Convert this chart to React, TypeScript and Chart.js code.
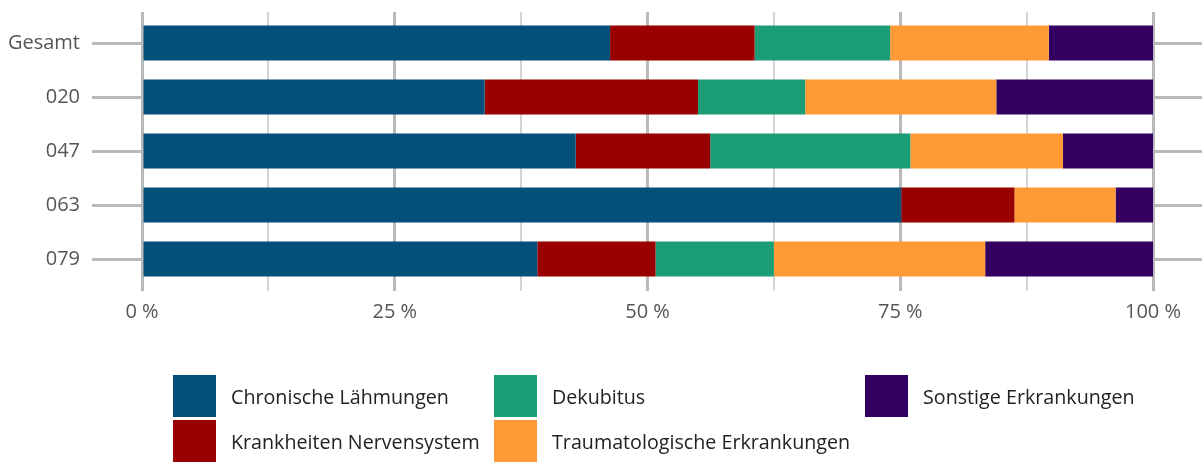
import React, { useEffect, useRef } from "react";
import { Chart, registerables } from "chart.js";

Chart.register(...registerables);

const categories = ["Gesamt", "020", "047", "063", "079"];
const chronischeLaehmungen = [46.3, 33.9, 42.9, 75.1, 39.1];
const krankheitenNervensystem = [14.3, 21.1, 13.3, 11.2, 11.7];
const dekubitus = [13.4, 10.6, 19.8, 0, 11.7];
const traumatologische = [15.7, 18.9, 15.1, 10.0, 20.9];
const sonstige = [10.3, 15.5, 8.9, 3.7, 16.6];

const seriesNames = [
  "Chronische Lähmungen",
  "Krankheiten Nervensystem",
  "Dekubitus",
  "Traumatologische Erkrankungen",
  "Sonstige Erkrankungen",
];
const seriesColors = ["#054f7b", "#990000", "#1b9e77", "#ff9a36", "#330062"];
const seriesValues = [chronischeLaehmungen, krankheitenNervensystem, dekubitus, traumatologische, sonstige];

const FONT = "'Open Sans', 'Noto Sans', sans-serif";
const MAJOR = "#b9b9b9";
const MINOR = "#d4d4d4";

export default function App() {
  const ref = useRef<HTMLCanvasElement | null>(null);

  useEffect(() => {
    document.body.style.margin = "0";
    const canvas = ref.current;
    if (!canvas) return;
    const gridWidth = (c: any) => (c.tick && c.tick.value % 25 === 0 ? 3 : 2);
    const gridColor = (c: any) => (c.tick && c.tick.value % 25 === 0 ? MAJOR : MINOR);
    const noHPad = (s: any) => {
      s.paddingLeft = 0;
      s.paddingRight = 0;
    };
    const noVPad = (s: any) => {
      s.paddingTop = 0;
      s.paddingBottom = 0;
    };
    const chart = new Chart(canvas, {
      type: "bar",
      data: {
        labels: categories,
        datasets: seriesValues.map((vals, i) => ({
          label: seriesNames[i],
          data: vals,
          backgroundColor: seriesColors[i],
          borderWidth: 0,
          categoryPercentage: 1,
          barPercentage: 0.65,
        })),
      },
      options: {
        indexAxis: "y",
        responsive: false,
        animation: false,
        layout: { padding: { top: 12, bottom: 138, left: 0, right: 0 } },
        plugins: { legend: { display: false }, tooltip: { enabled: false } },
        scales: {
          x: {
            type: "linear",
            position: "bottom",
            stacked: true,
            min: 0,
            max: 100,
            border: { display: false },
            grid: { color: gridColor, lineWidth: gridWidth, tickLength: 5 },
            ticks: {
              stepSize: 12.5,
              autoSkip: false,
              maxRotation: 0,
              padding: 9,
              color: "#555555",
              font: { family: FONT, size: 20 },
              callback: (v: any) => (Number(v) % 25 === 0 ? `${v} %` : ""),
            },
            afterFit: (s: any) => {
              s.height = 38;
              noHPad(s);
            },
          },
          x2: {
            type: "linear",
            position: "top",
            min: 0,
            max: 100,
            border: { display: false },
            grid: { color: gridColor, lineWidth: gridWidth, tickLength: 4, drawOnChartArea: false },
            ticks: { stepSize: 12.5, autoSkip: false, display: false },
            afterFit: (s: any) => {
              s.height = 4;
              noHPad(s);
            },
          },
          y: {
            type: "category",
            position: "left",
            stacked: true,
            offset: true,
            border: { display: false },
            grid: { offset: false, drawOnChartArea: false, tickLength: 50, lineWidth: 3, color: MAJOR },
            ticks: { padding: 12, color: "#555555", font: { family: FONT, size: 20 } },
            afterFit: (s: any) => {
              s.width = 142;
              noVPad(s);
            },
          },
          y2: {
            type: "category",
            position: "right",
            offset: true,
            border: { display: false },
            grid: { offset: false, drawOnChartArea: false, tickLength: 49, lineWidth: 3, color: MAJOR },
            ticks: { display: false },
            afterFit: (s: any) => {
              s.width = 49;
              noVPad(s);
            },
          },
        },
      } as any,
    });
    return () => chart.destroy();
  }, []);

  const legendCols = [
    { x: 173, items: [0, 1] },
    { x: 494, items: [2, 3] },
    { x: 865, items: [4] },
  ];
  const rowsY = [375, 420];

  return (
    <div style={{ position: "relative", width: 1202, height: 462, fontFamily: FONT }}>
      <canvas ref={ref} width={1202} height={462} style={{ display: "block", width: 1202, height: 462 }} />
      {legendCols.map((col) =>
        col.items.map((idx, r) => (
          <div
            key={idx}
            style={{
              position: "absolute",
              left: col.x,
              top: rowsY[r],
              height: 42,
              display: "flex",
              alignItems: "center",
              whiteSpace: "nowrap",
            }}
          >
            <div style={{ width: 43, height: 42, background: seriesColors[idx] }} />
            <span style={{ marginLeft: 15, fontSize: 19.7, color: "#222222" }}>{seriesNames[idx]}</span>
          </div>
        ))
      )}
    </div>
  );
}
